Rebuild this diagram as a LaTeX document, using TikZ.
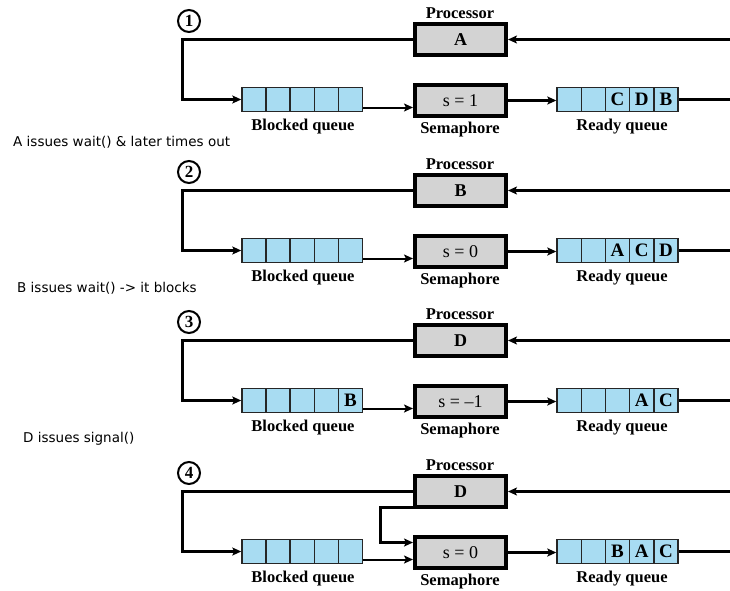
\documentclass[tikz,border=0pt]{standalone}
\usepackage{fontspec}
\setmainfont{Liberation Serif}
\newfontfamily\sidefont{DejaVu Sans}
\usetikzlibrary{arrows.meta}
\definecolor{qblue}{RGB}{168,220,242}
\definecolor{boxgray}{RGB}{211,211,211}
\tikzset{
 procbox/.style={draw=black, fill=boxgray, line width=4pt, minimum width=91pt, minimum height=31pt, inner sep=0pt, font=\fontsize{18}{18}\selectfont\bfseries},
 sembox/.style={procbox, font=\fontsize{18}{18}\selectfont},
 cell/.style={draw=black!85, fill=qblue, line width=1.4pt, minimum width=24.2pt, minimum height=24pt, inner sep=0pt, font=\fontsize{19}{19}\selectfont\bfseries},
 lbl/.style={anchor=base, inner sep=0pt, font=\fontsize{16.5}{16.5}\selectfont\bfseries},
 side/.style={anchor=base west, inner sep=0pt, font=\sidefont\fontsize{13.5}{13.5}\selectfont},
 num/.style={circle, draw, line width=2pt, minimum size=22pt, inner sep=0pt, font=\fontsize{17}{17}\selectfont\bfseries},
 conn/.style={line width=3pt},
 thinconn/.style={line width=2pt},
 tip/.style={-{Stealth[length=9pt,width=8pt,inset=2pt]}},
}
\newcommand\qpanel[7]{%
\begin{scope}[shift={(0,#1)}]
\node[num] (n#2) at (189,21) {#2};
\node[lbl] (pl#2) at (460,18) {Processor};
\node[procbox] (P#2) at (460.5,39.5) {#3};
\node[sembox] (S#2) at (460.5,100.5) {#4};
\node[lbl] (sl#2) at (460,133) {Semaphore};
\foreach \i/\t in {#5} \node[cell] (b#2-\i) at ({242+24.1*(\i-0.5)},99.5) {\t};
\foreach \i/\t in {#6} \node[cell] (r#2-\i) at ({557+24.2*(\i-0.5)},99.5) {\t};
\node[lbl] (bl#2) at (303,130) {Blocked queue};
\node[lbl] (rl#2) at (622,130) {Ready queue};
\coordinate (L#2) at (182,70);
\coordinate (RE#2) at (730,99.5);
\coordinate (RT#2) at (730,39.5);
\draw[conn,tip] (P#2.west) -| (L#2) |- (b#2-1.west);
\draw[thinconn,tip] ([yshift=-8pt]b#2-5.east) -- ([yshift=-8pt]b#2-5.east -| S#2.west);
\draw[conn,tip] (S#2.east) -- (S#2.east -| r#2-1.west);
\draw[conn] (r#2-5.east) -- (RE#2);
\draw[conn,tip] (RT#2) -- (P#2.east);
#7
\end{scope}}
\begin{document}
\begin{tikzpicture}[x=1pt,y=-1pt]
\useasboundingbox (0,0) rectangle (730,590);
\qpanel{0}{1}{A}{s = 1}{1/,2/,3/,4/,5/}{1/,2/,3/C,4/D,5/B}{}
\qpanel{151}{2}{B}{s = 0}{1/,2/,3/,4/,5/}{1/,2/,3/A,4/C,5/D}{}
\qpanel{301}{3}{D}{s = –1}{1/,2/,3/,4/,5/B}{1/,2/,3/,4/A,5/C}{}
\qpanel{452}{4}{D}{s = 0}{1/,2/,3/,4/,5/}{1/,2/,3/B,4/A,5/C}{%
 \coordinate (K4) at (380,75);
 \draw[conn,tip] ([yshift=2pt]P4.south west) -| (K4) |- ([yshift=10pt]S4.west);}
\node[side] (t1) at (13,146.5) {A issues wait() \& later times out};
\node[side] (t2) at (17,292) {B issues wait() -> it blocks};
\node[side] (t3) at (23,442) {D issues signal()};
\end{tikzpicture}
\end{document}
